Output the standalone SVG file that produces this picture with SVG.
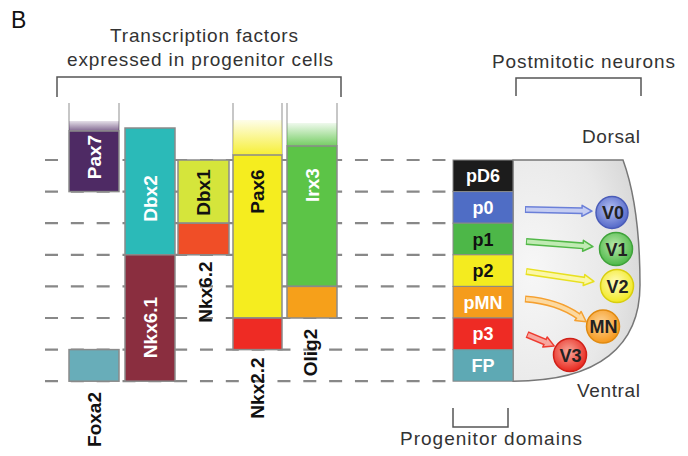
<svg xmlns="http://www.w3.org/2000/svg" width="688" height="456" viewBox="0 0 688 456">
<style>
.t{font-family:"Liberation Sans",Arial,sans-serif;fill:#333;font-size:19px}
.lb{font-family:"Liberation Sans",Arial,sans-serif;font-weight:bold;font-size:19px;text-anchor:middle}
.pl{font-family:"Liberation Sans",Arial,sans-serif;font-weight:bold;font-size:18px;text-anchor:middle}
.nl{font-family:"Liberation Sans",Arial,sans-serif;font-weight:bold;font-size:18px;text-anchor:middle;fill:#222}
.bar{stroke:#8a8a8a;stroke-width:1.5}
.guide{stroke:#b5b5b5;stroke-width:1.5;fill:none}
.br{stroke:#555;stroke-width:1.5;fill:none}
.w{fill:#fff}
.k{fill:#111}
.dash{stroke:#888;stroke-width:2.2;stroke-dasharray:13 12.83;fill:none}
.box{stroke:#888;stroke-width:1}
</style>
<defs>
<linearGradient id="fPur" x1="0" y1="0" x2="0" y2="1"><stop offset="0" stop-color="#4e2a64" stop-opacity="0.15"/><stop offset="1" stop-color="#4e2a64" stop-opacity="0.7"/></linearGradient>
<linearGradient id="fYel" x1="0" y1="0" x2="0" y2="1"><stop offset="0" stop-color="#f5ed1f" stop-opacity="0.1"/><stop offset="1" stop-color="#f5ed1f" stop-opacity="0.9"/></linearGradient>
<linearGradient id="fGrn" x1="0" y1="0" x2="0" y2="1"><stop offset="0" stop-color="#5cc447" stop-opacity="0.1"/><stop offset="1" stop-color="#5cc447" stop-opacity="0.85"/></linearGradient>
<radialGradient id="gBg" cx="0.15" cy="0.5" r="0.95"><stop offset="0" stop-color="#f7f7f7"/><stop offset="0.65" stop-color="#e8e8e8"/><stop offset="1" stop-color="#d4d4d4"/></radialGradient>
<radialGradient id="gV0" cx="0.45" cy="0.4" r="0.6"><stop offset="0" stop-color="#b4c0f2"/><stop offset="1" stop-color="#5468c8"/></radialGradient>
<radialGradient id="gV1" cx="0.45" cy="0.4" r="0.6"><stop offset="0" stop-color="#b8e8aa"/><stop offset="1" stop-color="#4db848"/></radialGradient>
<radialGradient id="gV2" cx="0.45" cy="0.4" r="0.6"><stop offset="0" stop-color="#fffcc0"/><stop offset="1" stop-color="#f2e820"/></radialGradient>
<radialGradient id="gMN" cx="0.45" cy="0.4" r="0.6"><stop offset="0" stop-color="#fdd59a"/><stop offset="1" stop-color="#f5981c"/></radialGradient>
<radialGradient id="gV3" cx="0.45" cy="0.4" r="0.6"><stop offset="0" stop-color="#f8a89a"/><stop offset="1" stop-color="#e8281f"/></radialGradient>
<polygon id="head" points="0,-5.5 10,0 0,5.5"/>
</defs>

<text x="11" y="28" font-family="Liberation Sans,Arial,sans-serif" font-size="23" fill="#111">B</text>

<g id="title">
<text class="t" x="110" y="42" textLength="188" lengthAdjust="spacing">Transcription factors</text>
<text class="t" x="67" y="66" textLength="266" lengthAdjust="spacing">expressed in progenitor cells</text>
<path class="br" d="M57,97 V77 H341 V97"/>
</g>

<g id="postmitotic-label">
<text class="t" x="492" y="68" textLength="183" lengthAdjust="spacing">Postmitotic neurons</text>
<path class="br" d="M516,96 V78 H641 V96"/>
</g>

<g id="connectors">
<line class="dash" x1="45" y1="160" x2="446" y2="160"/>
<line class="dash" x1="45" y1="191.6" x2="446" y2="191.6"/>
<line class="dash" x1="45" y1="223.2" x2="446" y2="223.2"/>
<line class="dash" x1="45" y1="254.8" x2="446" y2="254.8"/>
<line class="dash" x1="45" y1="286.4" x2="446" y2="286.4"/>
<line class="dash" x1="45" y1="318" x2="446" y2="318"/>
<line class="dash" x1="45" y1="349.6" x2="446" y2="349.6"/>
<line class="dash" x1="45" y1="381.2" x2="446" y2="381.2"/>
</g>

<g id="pax7">
<path class="guide" d="M69,103 V131 M119,103 V131"/>
<rect x="69" y="121" width="50" height="10" fill="url(#fPur)"/>
<rect class="bar" x="69" y="131" width="50" height="60.6" fill="#4e2a64"/>
<text class="lb w" transform="translate(94,157) rotate(-90)" y="6.5">Pax7</text>
</g>

<g id="dbx2">
<rect class="bar" x="125" y="128" width="50" height="126.8" fill="#2bbab8"/>
<text class="lb w" transform="translate(150,198.5) rotate(-90)" y="6.5">Dbx2</text>
</g>

<g id="nkx61">
<rect class="bar" x="125" y="254.8" width="50" height="126.4" fill="#8a2e3f"/>
<text class="lb w" transform="translate(150,327.5) rotate(-90)" y="6.5">Nkx6.1</text>
</g>

<g id="dbx1">
<rect class="bar" x="178" y="160" width="51" height="63.2" fill="#d5e53b"/>
<text class="lb k" transform="translate(203.5,192.5) rotate(-90)" y="6.5">Dbx1</text>
</g>

<g id="nkx62">
<rect class="bar" x="178" y="223.2" width="51" height="31.6" fill="#f04e27"/>
<text class="lb k" transform="translate(205,292) rotate(-90)" y="6.5">Nkx6.2</text>
</g>

<g id="pax6">
<path class="guide" d="M233,103 V155 M282,103 V155"/>
<rect x="233" y="120" width="49" height="35" fill="url(#fYel)"/>
<rect class="bar" x="233" y="155" width="49" height="163" fill="#f5ed1f"/>
<text class="lb k" transform="translate(257.5,191.5) rotate(-90)" y="6.5">Pax6</text>
</g>

<g id="nkx22">
<rect class="bar" x="233" y="318" width="49" height="31.6" fill="#ee2b24"/>
<text class="lb k" transform="translate(257.5,388) rotate(-90)" y="6.5">Nkx2.2</text>
</g>

<g id="irx3">
<path class="guide" d="M287,103 V146 M337,103 V146"/>
<rect x="287" y="123" width="50" height="23" fill="url(#fGrn)"/>
<rect class="bar" x="287" y="146" width="50" height="140.4" fill="#5cc447"/>
<text class="lb w" transform="translate(312,185) rotate(-90)" y="6.5">Irx3</text>
</g>

<g id="olig2">
<rect class="bar" x="287" y="286.4" width="50" height="31.6" fill="#f6a01a"/>
<text class="lb k" transform="translate(310.5,352.5) rotate(-90)" y="6.5">Olig2</text>
</g>

<g id="foxa2">
<rect class="bar" x="69" y="349.6" width="50" height="31.6" fill="#68adb9"/>
<text class="lb k" transform="translate(94.5,419.5) rotate(-90)" y="6.5">Foxa2</text>
</g>

<g id="neural-tube">
<path d="M513,160 L623,160 C634,190 640,235 640,285 C640,345 600,381.2 513,381.2 Z" fill="url(#gBg)" stroke="#777" stroke-width="1.5"/>
<text class="t" x="582" y="143" textLength="58" lengthAdjust="spacing">Dorsal</text>
<text class="t" x="577" y="397" textLength="63" lengthAdjust="spacing">Ventral</text>
</g>

<g id="pD6"><rect class="box" x="453" y="160" width="60" height="31.6" fill="#1c1c1c"/><text class="pl w" x="483" y="182.3">pD6</text></g>
<g id="p0"><rect class="box" x="453" y="191.6" width="60" height="31.6" fill="#4f6dc5"/><text class="pl w" x="483" y="213.9">p0</text></g>
<g id="p1"><rect class="box" x="453" y="223.2" width="60" height="31.6" fill="#4db748"/><text class="pl k" x="483" y="245.5">p1</text></g>
<g id="p2"><rect class="box" x="453" y="254.8" width="60" height="31.6" fill="#f4eb1f"/><text class="pl k" x="483" y="277.1">p2</text></g>
<g id="pMN"><rect class="box" x="453" y="286.4" width="60" height="31.6" fill="#f59c1c"/><text class="pl w" x="483" y="308.7">pMN</text></g>
<g id="p3"><rect class="box" x="453" y="318" width="60" height="31.6" fill="#ee2b24"/><text class="pl w" x="483" y="340.3">p3</text></g>
<g id="FP"><rect class="box" x="453" y="349.6" width="60" height="31.6" fill="#5ea9b4"/><text class="pl w" x="483" y="371.9">FP</text></g>

<g id="progenitor-label">
<path class="br" d="M453,408 V427 H508 V408"/>
<text class="t" x="400" y="445" textLength="182" lengthAdjust="spacing">Progenitor domains</text>
</g>

<g id="arrows">
<g>
<path d="M525,209.5 L582,210.8" stroke="#6a7fd8" stroke-width="7" fill="none"/>
<use href="#head" transform="translate(582,210.8) rotate(1.3)" fill="#c5cdf2" stroke="#6a7fd8" stroke-width="1.5" stroke-linejoin="round"/>
<path d="M526,209.5 L583,210.8" stroke="#c5cdf2" stroke-width="4" fill="none"/>
</g>
<g>
<path d="M526,241.5 L583,245.8" stroke="#52b848" stroke-width="7" fill="none"/>
<use href="#head" transform="translate(583,245.8) rotate(4.3)" fill="#c0ebb3" stroke="#52b848" stroke-width="1.5" stroke-linejoin="round"/>
<path d="M527,241.6 L584,245.9" stroke="#c0ebb3" stroke-width="4" fill="none"/>
</g>
<g>
<path d="M526,271.5 L584,280" stroke="#e8e020" stroke-width="7" fill="none"/>
<use href="#head" transform="translate(584,280) rotate(8.4)" fill="#fbf7a8" stroke="#e8e020" stroke-width="1.5" stroke-linejoin="round"/>
<path d="M527,271.6 L585,280.2" stroke="#fbf7a8" stroke-width="4" fill="none"/>
</g>
<g>
<path d="M525,299 Q557.5,301.6 578,316" stroke="#f5a030" stroke-width="7" fill="none"/>
<use href="#head" transform="translate(578,316) rotate(35)" fill="#fcd9a0" stroke="#f5a030" stroke-width="1.5" stroke-linejoin="round"/>
<path d="M526,299.1 Q557.5,301.6 579,316.7" stroke="#fcd9a0" stroke-width="4" fill="none"/>
</g>
<g>
<path d="M527,334.5 L545,342" stroke="#ee3b30" stroke-width="7" fill="none"/>
<use href="#head" transform="translate(545,342) rotate(23)" fill="#f7a8a0" stroke="#ee3b30" stroke-width="1.5" stroke-linejoin="round"/>
<path d="M528,334.9 L546,342.4" stroke="#f7a8a0" stroke-width="4" fill="none"/>
</g>
</g>

<g id="V0"><circle cx="612" cy="212.5" r="16" fill="url(#gV0)" stroke="#4a5cb8" stroke-width="1.5"/><text class="nl" x="613" y="219">V0</text></g>
<g id="V1"><circle cx="616" cy="249" r="16.5" fill="url(#gV1)" stroke="#3fa23a" stroke-width="1.5"/><text class="nl" x="616.5" y="255.5">V1</text></g>
<g id="V2"><circle cx="617" cy="286" r="16.5" fill="url(#gV2)" stroke="#d8ce10" stroke-width="1.5"/><text class="nl" x="617.5" y="292.5">V2</text></g>
<g id="MN"><circle cx="603" cy="326.5" r="16.5" fill="url(#gMN)" stroke="#e08a10" stroke-width="1.5"/><text class="nl" x="603.5" y="333">MN</text></g>
<g id="V3"><circle cx="570" cy="355" r="16.5" fill="url(#gV3)" stroke="#d02018" stroke-width="1.5"/><text class="nl" x="570.5" y="361.5">V3</text></g>
</svg>
